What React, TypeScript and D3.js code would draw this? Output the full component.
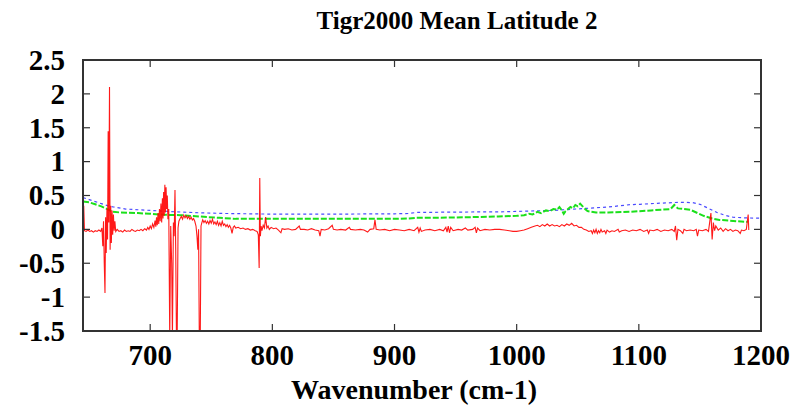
import React from "react";
import * as d3 from "d3";

const titleText = "Tigr2000 Mean Latitude 2";
const xAxisTitle = "Wavenumber (cm-1)";
const xTicks = [700, 800, 900, 1000, 1100, 1200];
const yTicks = [-1.5, -1, -0.5, 0, 0.5, 1, 1.5, 2, 2.5];
const xDomain: [number, number] = [645, 1200];
const yDomain: [number, number] = [-1.5, 2.5];

const blueSeries: [number, number][] = [
  [645, 0.47], [650, 0.44], [655, 0.41], [660, 0.38], [665, 0.35], [670, 0.33], [680, 0.3],
  [690, 0.29], [700, 0.28], [720, 0.26], [740, 0.245], [760, 0.235], [780, 0.23], [800, 0.225],
  [850, 0.225], [900, 0.23], [912, 0.235], [918, 0.25], [950, 0.255], [990, 0.26], [1000, 0.265],
  [1030, 0.28], [1057, 0.31], [1075, 0.33], [1093, 0.365], [1101, 0.37], [1115, 0.385],
  [1134, 0.4], [1144, 0.395], [1150, 0.37], [1157, 0.31], [1164, 0.25], [1170, 0.21],
  [1177, 0.18], [1186, 0.17], [1200, 0.165],
];

const greenSeries: [number, number][] = [
  [645, 0.41], [650, 0.4], [655, 0.37], [660, 0.34], [665, 0.3], [669, 0.26], [675, 0.25],
  [690, 0.24], [700, 0.23], [712, 0.215], [725, 0.21], [740, 0.19], [757, 0.17], [770, 0.155],
  [800, 0.155], [850, 0.155], [900, 0.155], [912, 0.16], [918, 0.17], [950, 0.175], [985, 0.19],
  [1000, 0.2], [1006, 0.21], [1010, 0.23], [1013, 0.22], [1017, 0.26], [1020, 0.24], [1024, 0.28],
  [1027, 0.27], [1030, 0.3], [1033, 0.29], [1035, 0.33], [1037, 0.28], [1038.5, 0.23],
  [1040, 0.27], [1042, 0.3], [1044, 0.33], [1046, 0.31], [1048, 0.36], [1050, 0.34], [1052, 0.38],
  [1054, 0.34], [1056, 0.3], [1058, 0.27], [1065, 0.25], [1075, 0.25], [1093, 0.26],
  [1110, 0.28], [1126, 0.3], [1129, 0.36], [1132, 0.31], [1142, 0.29], [1153, 0.2],
  [1160, 0.16], [1166, 0.14], [1180, 0.12], [1189, 0.11],
];

const redSeries: [number, number][] = [
  [645, 0.0], [645.6, 0.35], [646.2, -0.02], [647.5, -0.03], [649, -0.01], [650.5, -0.03],
  [652, -0.02], [653.5, -0.04], [655, -0.02], [656.5, -0.03], [658, -0.01], [659.5, -0.03],
  [660.5, 0.02], [661.2, -0.25], [661.8, 0.12], [662.4, -0.5], [663.0, -0.94], [663.5, 0.18],
  [664.0, -0.35], [664.6, 0.3], [665.1, -0.15], [665.6, 1.45], [666.1, 0.1], [666.7, 2.1],
  [667.2, -0.3], [667.7, 0.35], [668.2, -0.2], [668.8, 0.28], [669.3, -0.08], [669.9, 0.22],
  [670.5, -0.02], [671.1, 0.12], [671.8, -0.03], [673, 0.0], [674.5, -0.03], [676, -0.02],
  [677.5, -0.04], [679, -0.01], [680.5, -0.03], [682, -0.02], [683.5, -0.03], [685, 0.0],
  [686.5, -0.02], [688, -0.03], [689.5, -0.01], [691, -0.02], [692.5, 0.0], [694, -0.02],
  [695.5, 0.01], [697, -0.01], [698, 0.03], [699, 0.0], [700, 0.05], [701, 0.01], [702, 0.08],
  [703, 0.03], [704, 0.13], [704.6, 0.04], [705.2, 0.18], [705.8, 0.06], [706.4, 0.24],
  [707, 0.08], [707.6, 0.3], [708.2, 0.12], [708.8, 0.38], [709.4, 0.1], [710, 0.46],
  [710.5, 0.16], [711, 0.55], [711.5, 0.2], [712, 0.66], [712.5, 0.25], [713, 0.62],
  [713.5, 0.3], [714, 0.5], [714.5, 0.15], [715.2, 0.3], [716.0, -1.6], [716.8, 0.05],
  [717.6, -0.5], [718.2, -1.6], [719.0, 0.1], [719.6, -0.1], [720.3, 0.58], [720.9, -0.3],
  [721.5, -1.6], [722.1, -1.6], [722.8, 0.02], [723.5, 0.12], [724.5, 0.16], [725.5, 0.19],
  [726.5, 0.15], [727.5, 0.21], [728.5, 0.17], [729.5, 0.2], [730.5, 0.16], [731.5, 0.19],
  [732.5, 0.15], [733.5, 0.18], [734.5, 0.14], [735.5, 0.16], [736.5, 0.12], [737.5, 0.05],
  [738.3, -0.1], [739, -0.3], [739.6, 0.0], [740.2, -1.6], [741, -1.6], [741.6, 0.05],
  [742.3, 0.1], [743, 0.14], [744, 0.1], [745, 0.13], [746, 0.09], [747, 0.12], [748, 0.08],
  [749, 0.13], [750, 0.09], [751, 0.15], [752, 0.08], [753, 0.11], [754, 0.07], [755, 0.12],
  [756, 0.06], [757, 0.1], [758, 0.05], [759, 0.12], [760, 0.06], [761, 0.08], [762, 0.04],
  [763, 0.07], [764, 0.03], [765, 0.06], [766, 0.02], [767, -0.06], [768, 0.03], [769, 0.05],
  [770, 0.02], [772, 0.03], [774, 0.01], [776, 0.02], [778, 0.0], [780, 0.01], [782, -0.01],
  [784, 0.0], [786, -0.02], [787.5, -0.03], [788.5, -0.08], [789.2, -0.57], [789.7, 0.76],
  [790.2, -0.1], [790.8, 0.05], [791.5, -0.02], [792.5, 0.06], [793.5, 0.02], [794.5, 0.18],
  [795.5, 0.02], [796.5, 0.05], [797.5, 0.0], [799, 0.03], [801, 0.01], [803, 0.02],
  [805, -0.01], [807, -0.05], [808, 0.01], [810, 0.0], [813, 0.01], [816, -0.01], [819, 0.0],
  [822, 0.05], [823, 0.0], [826, 0.0], [829, -0.01], [832, 0.01], [835, -0.01], [838, -0.02],
  [839, -0.1], [840, 0.0], [843, -0.01], [846, 0.01], [849, 0.06], [850, 0.0], [853, -0.01],
  [856, 0.0], [860, -0.01], [863, 0.03], [864, 0.0], [868, -0.01], [872, 0.0], [875, -0.01],
  [878, -0.04], [880, 0.0], [883, 0.01], [884, 0.14], [885, 0.0], [888, -0.01], [892, 0.0],
  [896, -0.02], [900, 0.0], [904, -0.01], [908, -0.02], [912, 0.0], [916, -0.02], [919, 0.03],
  [920, -0.04], [921, 0.02], [922, -0.03], [925, -0.01], [929, 0.0], [933, -0.02], [937, 0.0],
  [940, -0.02], [942, 0.03], [943, -0.04], [944, 0.05], [945, -0.05], [946, 0.03], [948, -0.02],
  [952, 0.0], [955, -0.01], [958, 0.02], [960, -0.01], [964, 0.0], [966, 0.03], [967, -0.05],
  [968, 0.02], [970, -0.02], [974, 0.0], [978, -0.01], [982, 0.0], [986, 0.0], [990, -0.01],
  [994, -0.02], [997, -0.03], [1000, -0.03], [1003, -0.02], [1006, -0.01], [1009, 0.01],
  [1012, 0.03], [1015, 0.05], [1017, 0.06], [1019, 0.04], [1021, 0.07], [1023, 0.05],
  [1025, 0.08], [1027, 0.05], [1029, 0.07], [1031, 0.05], [1033, 0.06], [1035, 0.04],
  [1037, 0.07], [1039, 0.05], [1041, 0.08], [1043, 0.06], [1045, 0.09], [1047, 0.05],
  [1049, 0.06], [1051, 0.03], [1053, 0.03], [1055, 0.0], [1057, -0.01], [1059, -0.03],
  [1061, -0.02], [1062, -0.06], [1063, -0.01], [1064, -0.05], [1065, 0.0], [1066, -0.06],
  [1067, -0.02], [1068, -0.05], [1069, 0.0], [1070, -0.04], [1072, -0.02], [1073, -0.06],
  [1074, -0.01], [1076, -0.04], [1078, -0.02], [1080, -0.03], [1083, 0.0], [1084, -0.04],
  [1086, -0.02], [1089, -0.01], [1092, -0.03], [1095, -0.01], [1098, -0.02], [1101, 0.0],
  [1104, -0.03], [1107, -0.01], [1108, -0.06], [1109, -0.01], [1112, -0.02], [1115, 0.0],
  [1118, -0.03], [1121, -0.01], [1124, -0.02], [1127, 0.0], [1129, -0.03], [1130, 0.05],
  [1131, -0.16], [1132, 0.0], [1134, -0.02], [1136, -0.06], [1137, 0.0], [1139, -0.02],
  [1142, -0.01], [1145, -0.02], [1147, 0.0], [1148, -0.1], [1149, -0.01], [1152, -0.02],
  [1155, 0.0], [1157, -0.03], [1159, 0.24], [1160, -0.15], [1161, 0.1], [1162, -0.02],
  [1163, 0.05], [1165, -0.01], [1167, 0.02], [1169, -0.03], [1171, 0.01], [1173, -0.02],
  [1175, 0.0], [1177, -0.03], [1179, -0.01], [1181, -0.02], [1183, -0.06], [1184, -0.01],
  [1186, -0.02], [1188, 0.0], [1189.5, 0.22], [1190, -0.01],
];

const W = 805;
const H = 417;
const plot = { left: 83, right: 761, top: 60, bottom: 331 };
const fontFamily = "'Liberation Serif', 'Times New Roman', Times, serif";

export default function App() {
  const x = d3.scaleLinear().domain(xDomain).range([plot.left, plot.right]);
  const y = d3.scaleLinear().domain(yDomain).range([plot.bottom, plot.top]);
  const line = d3
    .line<[number, number]>()
    .x((d) => x(d[0]))
    .y((d) => y(d[1]));
  const tickLen = 7;

  return (
    <svg
      width={W}
      height={H}
      viewBox={`0 0 ${W} ${H}`}
      style={{ position: "absolute", left: 0, top: 0, background: "#fff" }}
    >
      <defs>
        <clipPath id="plotclip">
          <rect x={plot.left} y={plot.top} width={plot.right - plot.left} height={plot.bottom - plot.top} />
        </clipPath>
      </defs>
      <rect x={0} y={0} width={W} height={H} fill="#fff" />
      <text
        x={457}
        y={29}
        textAnchor="middle"
        fontFamily={fontFamily}
        fontWeight="bold"
        fontSize={25}
      >
        {titleText}
      </text>

      <g clipPath="url(#plotclip)" fill="none">
        <path d={line(blueSeries) || ""} stroke="#4a4aff" strokeWidth={1.2} strokeDasharray="3,3" />
        <path d={line(greenSeries) || ""} stroke="#1be01b" strokeWidth={2} strokeDasharray="6,2" />
        <path d={line(redSeries) || ""} stroke="#ff0000" strokeWidth={1.1} strokeOpacity={0.9} />
      </g>

      {yTicks.map((t) => (
        <g key={`y${t}`}>
          <line x1={plot.left} x2={plot.left + tickLen} y1={y(t)} y2={y(t)} stroke="#333" strokeWidth={1.2} />
          <line x1={plot.right} x2={plot.right - tickLen} y1={y(t)} y2={y(t)} stroke="#333" strokeWidth={1.2} />
          <text
            x={65}
            y={y(t)}
            dy="0.34em"
            textAnchor="end"
            fontFamily={fontFamily}
            fontWeight="bold"
            fontSize={29}
          >
            {String(t)}
          </text>
        </g>
      ))}
      {xTicks.map((t) => (
        <g key={`x${t}`}>
          <line x1={x(t)} x2={x(t)} y1={plot.bottom} y2={plot.bottom - tickLen} stroke="#333" strokeWidth={1.2} />
          <line x1={x(t)} x2={x(t)} y1={plot.top} y2={plot.top + tickLen} stroke="#333" strokeWidth={1.2} />
          <text
            x={x(t)}
            y={365}
            textAnchor="middle"
            fontFamily={fontFamily}
            fontWeight="bold"
            fontSize={29}
          >
            {String(t)}
          </text>
        </g>
      ))}
      <rect
        x={plot.left}
        y={plot.top}
        width={plot.right - plot.left}
        height={plot.bottom - plot.top}
        fill="none"
        stroke="#333"
        strokeWidth={2}
      />
      <text
        x={414}
        y={399}
        textAnchor="middle"
        fontFamily={fontFamily}
        fontWeight="bold"
        fontSize={28}
      >
        {xAxisTitle}
      </text>
    </svg>
  );
}
